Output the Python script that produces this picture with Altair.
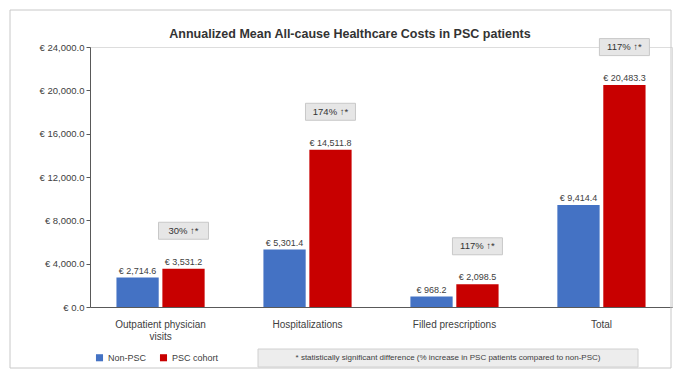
import altair as alt
import pandas as pd

title_text = "Annualized Mean All-cause Healthcare Costs in PSC patients"
categories = ["Outpatient physician visits", "Hospitalizations", "Filled prescriptions", "Total"]
series = ["Non-PSC", "PSC cohort"]
non_psc = [2714.6, 5301.4, 968.2, 9414.4]
psc = [3531.2, 14511.8, 2098.5, 20483.3]
pct_labels = ["30% ↑*", "174% ↑*", "117% ↑*", "117% ↑*"]
y_ticks = [0, 4000, 8000, 12000, 16000, 20000, 24000]
note_text = "* statistically significant difference (% increase in PSC patients compared to non-PSC)"

rows = []
for c, a, b in zip(categories, non_psc, psc):
    rows.append({"category": c, "series": series[0], "value": a})
    rows.append({"category": c, "series": series[1], "value": b})
df = pd.DataFrame(rows)
pct_df = pd.DataFrame({"category": categories, "series": [series[1]] * 4, "value": psc, "pct": pct_labels})

x_enc = alt.X("category:N", sort=categories, title=None,
              scale=alt.Scale(paddingInner=0.4, paddingOuter=0.18),
              axis=alt.Axis(labelAngle=0, labelFontSize=10, labelColor="#404040", ticks=False,
                            domainColor="#595959", labelPadding=12,
                            labelExpr="datum.value == 'Outpatient physician visits' ? ['Outpatient physician', 'visits'] : datum.value"))
xoff = alt.XOffset("series:N", sort=series, scale=alt.Scale(paddingInner=0.08))
y_enc = alt.Y("value:Q", title=None,
              scale=alt.Scale(domain=[0, 24000], nice=False),
              axis=alt.Axis(values=y_ticks, grid=False, labelFontSize=9.5, labelColor="#404040",
                            domainColor="#595959", tickColor="#595959", tickSize=4,
                            labelExpr="'€ ' + format(datum.value, ',.1f')"))

bars = alt.Chart(df).mark_bar().encode(
    x=x_enc, xOffset=xoff, y=y_enc,
    color=alt.Color("series:N", sort=series,
                    scale=alt.Scale(domain=series, range=["#4472C4", "#C80000"]),
                    legend=alt.Legend(title=None, orient="none", legendX=5, legendY=306,
                                      direction="horizontal", symbolType="square",
                                      symbolSize=50, labelFontSize=9, labelColor="#404040",
                                      columnPadding=12))
)

labels = alt.Chart(df).transform_calculate(
    lab="'€ ' + format(datum.value, ',.1f')"
).mark_text(dy=-7, fontSize=9, color="#404040").encode(
    x=x_enc, xOffset=xoff, y=y_enc, text="lab:N"
)

boxes = alt.Chart(pct_df).mark_point(
    shape="M-1,-0.34L1,-0.34L1,0.34L-1,0.34Z", size=2500, filled=True,
    fill="#E6E6E6", stroke="#C8C8C8", strokeWidth=1, opacity=1, yOffset=-38
).encode(x=x_enc, xOffset=xoff, y=y_enc)

pcts = alt.Chart(pct_df).mark_text(dy=-38, fontSize=9.5, color="#333333").encode(
    x=x_enc, xOffset=xoff, y=y_enc, text="pct:N"
)

frame = alt.Chart(pd.DataFrame({"t": [0]})).mark_rect(
    fill="white", fillOpacity=0, stroke="#C8C8C8", strokeWidth=1
).encode(x=alt.value(-80), x2=alt.value(581), y=alt.value(-37), y2=alt.value(321))

title = alt.Chart(pd.DataFrame({"t": [title_text]})).mark_text(
    fontSize=12.5, fontWeight="bold", color="#333333", align="center", baseline="middle"
).encode(x=alt.value(260), y=alt.value(-13), text="t:N")

note_box = alt.Chart(pd.DataFrame({"t": [note_text]})).mark_rect(
    fill="#EDEDED", stroke="#D0D0D0"
).encode(x=alt.value(168), x2=alt.value(548), y=alt.value(302), y2=alt.value(320))

note = alt.Chart(pd.DataFrame({"t": [note_text]})).mark_text(
    fontSize=8, color="#404040", align="center", baseline="middle"
).encode(x=alt.value(358), y=alt.value(311), text="t:N")

chart = alt.layer(frame, bars, labels, boxes, pcts, note_box, note, title).properties(
    width=582, height=260,
    autosize=alt.AutoSizeParams(type="none"),
    padding={"left": 82, "top": 39, "right": 1, "bottom": 63}
).configure_view(stroke=None).configure(background="white")

chart.save("out.html", embed_options={"renderer": "svg", "actions": False})
